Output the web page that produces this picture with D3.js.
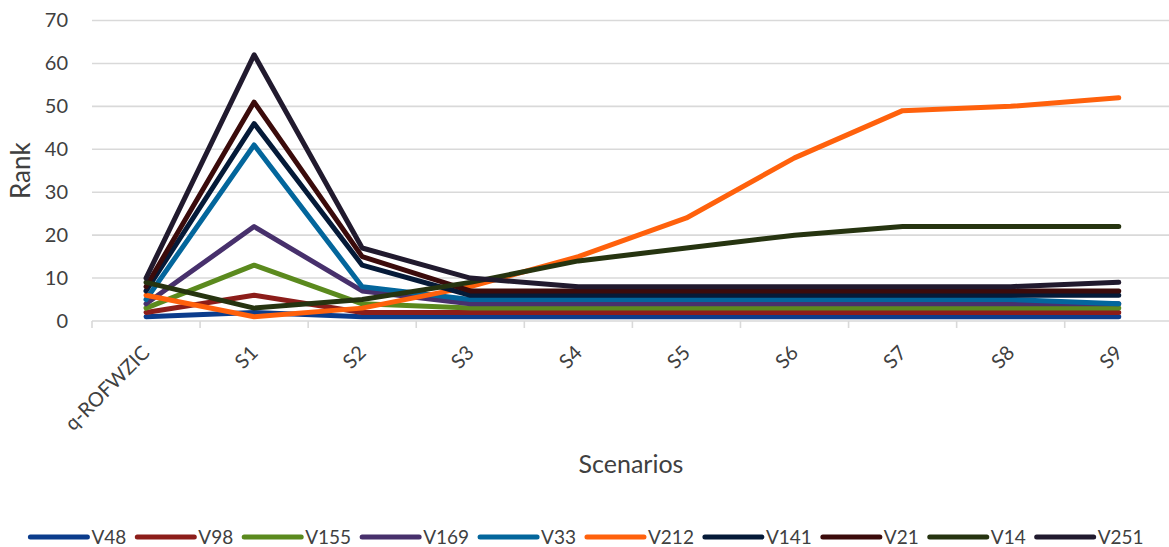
<!DOCTYPE html>
<html>
<head>
<meta charset="utf-8">
<script src="https://cdn.jsdelivr.net/npm/d3@7"></script>
<style>
  html, body { margin: 0; padding: 0; background: #fff; }
  svg { display: block; font-family: Lato, "Open Sans", sans-serif; }
</style>
</head>
<body>
<svg id="chart" width="1169" height="547"></svg>
<script>
// Scenario categories along the x axis
const categories = ["q-ROFWZIC", "S1", "S2", "S3", "S4", "S5", "S6", "S7", "S8", "S9"];

// Rank of each alternative under every scenario
const V48  = [1, 2, 1, 1, 1, 1, 1, 1, 1, 1];
const V98  = [2, 6, 2, 2, 2, 2, 2, 2, 2, 2];
const V155 = [3, 13, 4, 3, 3, 3, 3, 3, 3, 3];
const V169 = [4, 22, 7, 4, 4, 4, 4, 4, 4, 4];
const V33  = [5, 41, 8, 5, 5, 5, 5, 5, 5, 4];
const V212 = [6, 1, 3, 8, 15, 24, 38, 49, 50, 52];
const V141 = [7, 46, 13, 6, 6, 6, 6, 6, 6, 6];
const V21  = [8, 51, 15, 7, 7, 7, 7, 7, 7, 7];
const V14  = [9, 3, 5, 9, 14, 17, 20, 22, 22, 22];
const V251 = [10, 62, 17, 10, 8, 8, 8, 8, 8, 9];

const seriesNames = ["V48", "V98", "V155", "V169", "V33", "V212", "V141", "V21", "V14", "V251"];
const seriesValues = [V48, V98, V155, V169, V33, V212, V141, V21, V14, V251];
const seriesColors = ["#0b3c8c", "#8c1d1a", "#5b8a1e", "#47306c", "#03669c", "#ff610c",
                      "#051a38", "#3b0b0b", "#263410", "#211a2e"];

const yTicks = [0, 10, 20, 30, 40, 50, 60, 70];

const svg = d3.select("#chart");
const plotLeft = 92, plotRight = 1172.8, plotTop = 20.5, plotBottom = 321;

const x = d3.scaleBand().domain(categories).range([plotLeft, plotRight]);
const y = d3.scaleLinear().domain([0, 70]).range([plotBottom, plotTop]);

// Horizontal gridlines
svg.append("g")
  .selectAll("line")
  .data(yTicks.filter(d => d > 0))
  .join("line")
  .attr("x1", plotLeft).attr("x2", plotRight)
  .attr("y1", d => y(d)).attr("y2", d => y(d))
  .attr("stroke", "#d9d9d9").attr("stroke-width", 1.6);

// Y axis labels
const yAxis = d3.axisLeft(y).tickValues(yTicks).tickSize(0).tickPadding(0);
svg.append("g")
  .attr("transform", `translate(${plotLeft - 24},0)`)
  .call(yAxis)
  .call(g => g.select(".domain").remove())
  .call(g => g.selectAll("text")
    .attr("font-family", "Lato, 'Open Sans', sans-serif")
    .attr("font-size", 20).attr("fill", "#404040"));

// X axis: baseline, boundary ticks, rotated labels
const xAxisG = svg.append("g").attr("transform", `translate(0,${plotBottom})`);
xAxisG.append("line")
  .attr("x1", plotLeft).attr("x2", plotRight).attr("y1", 0).attr("y2", 0)
  .attr("stroke", "#d9d9d9").attr("stroke-width", 1.6);
xAxisG.selectAll("line.tick")
  .data(d3.range(categories.length + 1))
  .join("line")
  .attr("class", "tick")
  .attr("x1", i => plotLeft + i * x.step()).attr("x2", i => plotLeft + i * x.step())
  .attr("y1", 0).attr("y2", 7)
  .attr("stroke", "#d9d9d9").attr("stroke-width", 1.6);
xAxisG.selectAll("text")
  .data(categories)
  .join("text")
  .attr("transform", d => `translate(${x(d) + x.bandwidth() / 2 + 5},${33}) rotate(-45)`)
  .attr("text-anchor", "end")
  .attr("font-size", 20)
  .attr("fill", "#404040")
  .text(d => d);

// Axis titles
svg.append("text")
  .attr("transform", `translate(30,${(plotBottom + plotTop) / 2}) rotate(-90)`)
  .attr("text-anchor", "middle")
  .attr("font-size", 26).attr("fill", "#404040")
  .text("Rank");
svg.append("text")
  .attr("x", 631).attr("y", 473)
  .attr("text-anchor", "middle")
  .attr("font-size", 25).attr("fill", "#404040")
  .text("Scenarios");

// Series lines
const line = d3.line()
  .x((d, i) => x(categories[i]) + x.bandwidth() / 2)
  .y(d => y(d));

svg.append("g")
  .selectAll("path")
  .data(seriesValues)
  .join("path")
  .attr("d", d => line(d))
  .attr("fill", "none")
  .attr("stroke", (d, i) => seriesColors[i])
  .attr("stroke-width", 5)
  .attr("stroke-linejoin", "round")
  .attr("stroke-linecap", "round");

// Legend along the bottom
const legend = svg.append("g");
const items = legend.selectAll("g")
  .data(seriesNames)
  .join("g");
items.append("line")
  .attr("x1", 0).attr("x2", 57).attr("y1", 0).attr("y2", 0)
  .attr("stroke", (d, i) => seriesColors[i])
  .attr("stroke-width", 5)
  .attr("stroke-linecap", "round");
items.append("text")
  .attr("x", 61).attr("y", 7)
  .attr("font-size", 19).attr("fill", "#404040")
  .text(d => d);
const widths = [];
items.each(function () {
  widths.push(61 + this.querySelector("text").getComputedTextLength());
});
const gap = 11;
const total = d3.sum(widths) + gap * (widths.length - 1);
let cursor = 587 - total / 2;
items.attr("transform", (d, i) => {
  const t = `translate(${cursor},537)`;
  cursor += widths[i] + gap;
  return t;
});
</script>
</body>
</html>
